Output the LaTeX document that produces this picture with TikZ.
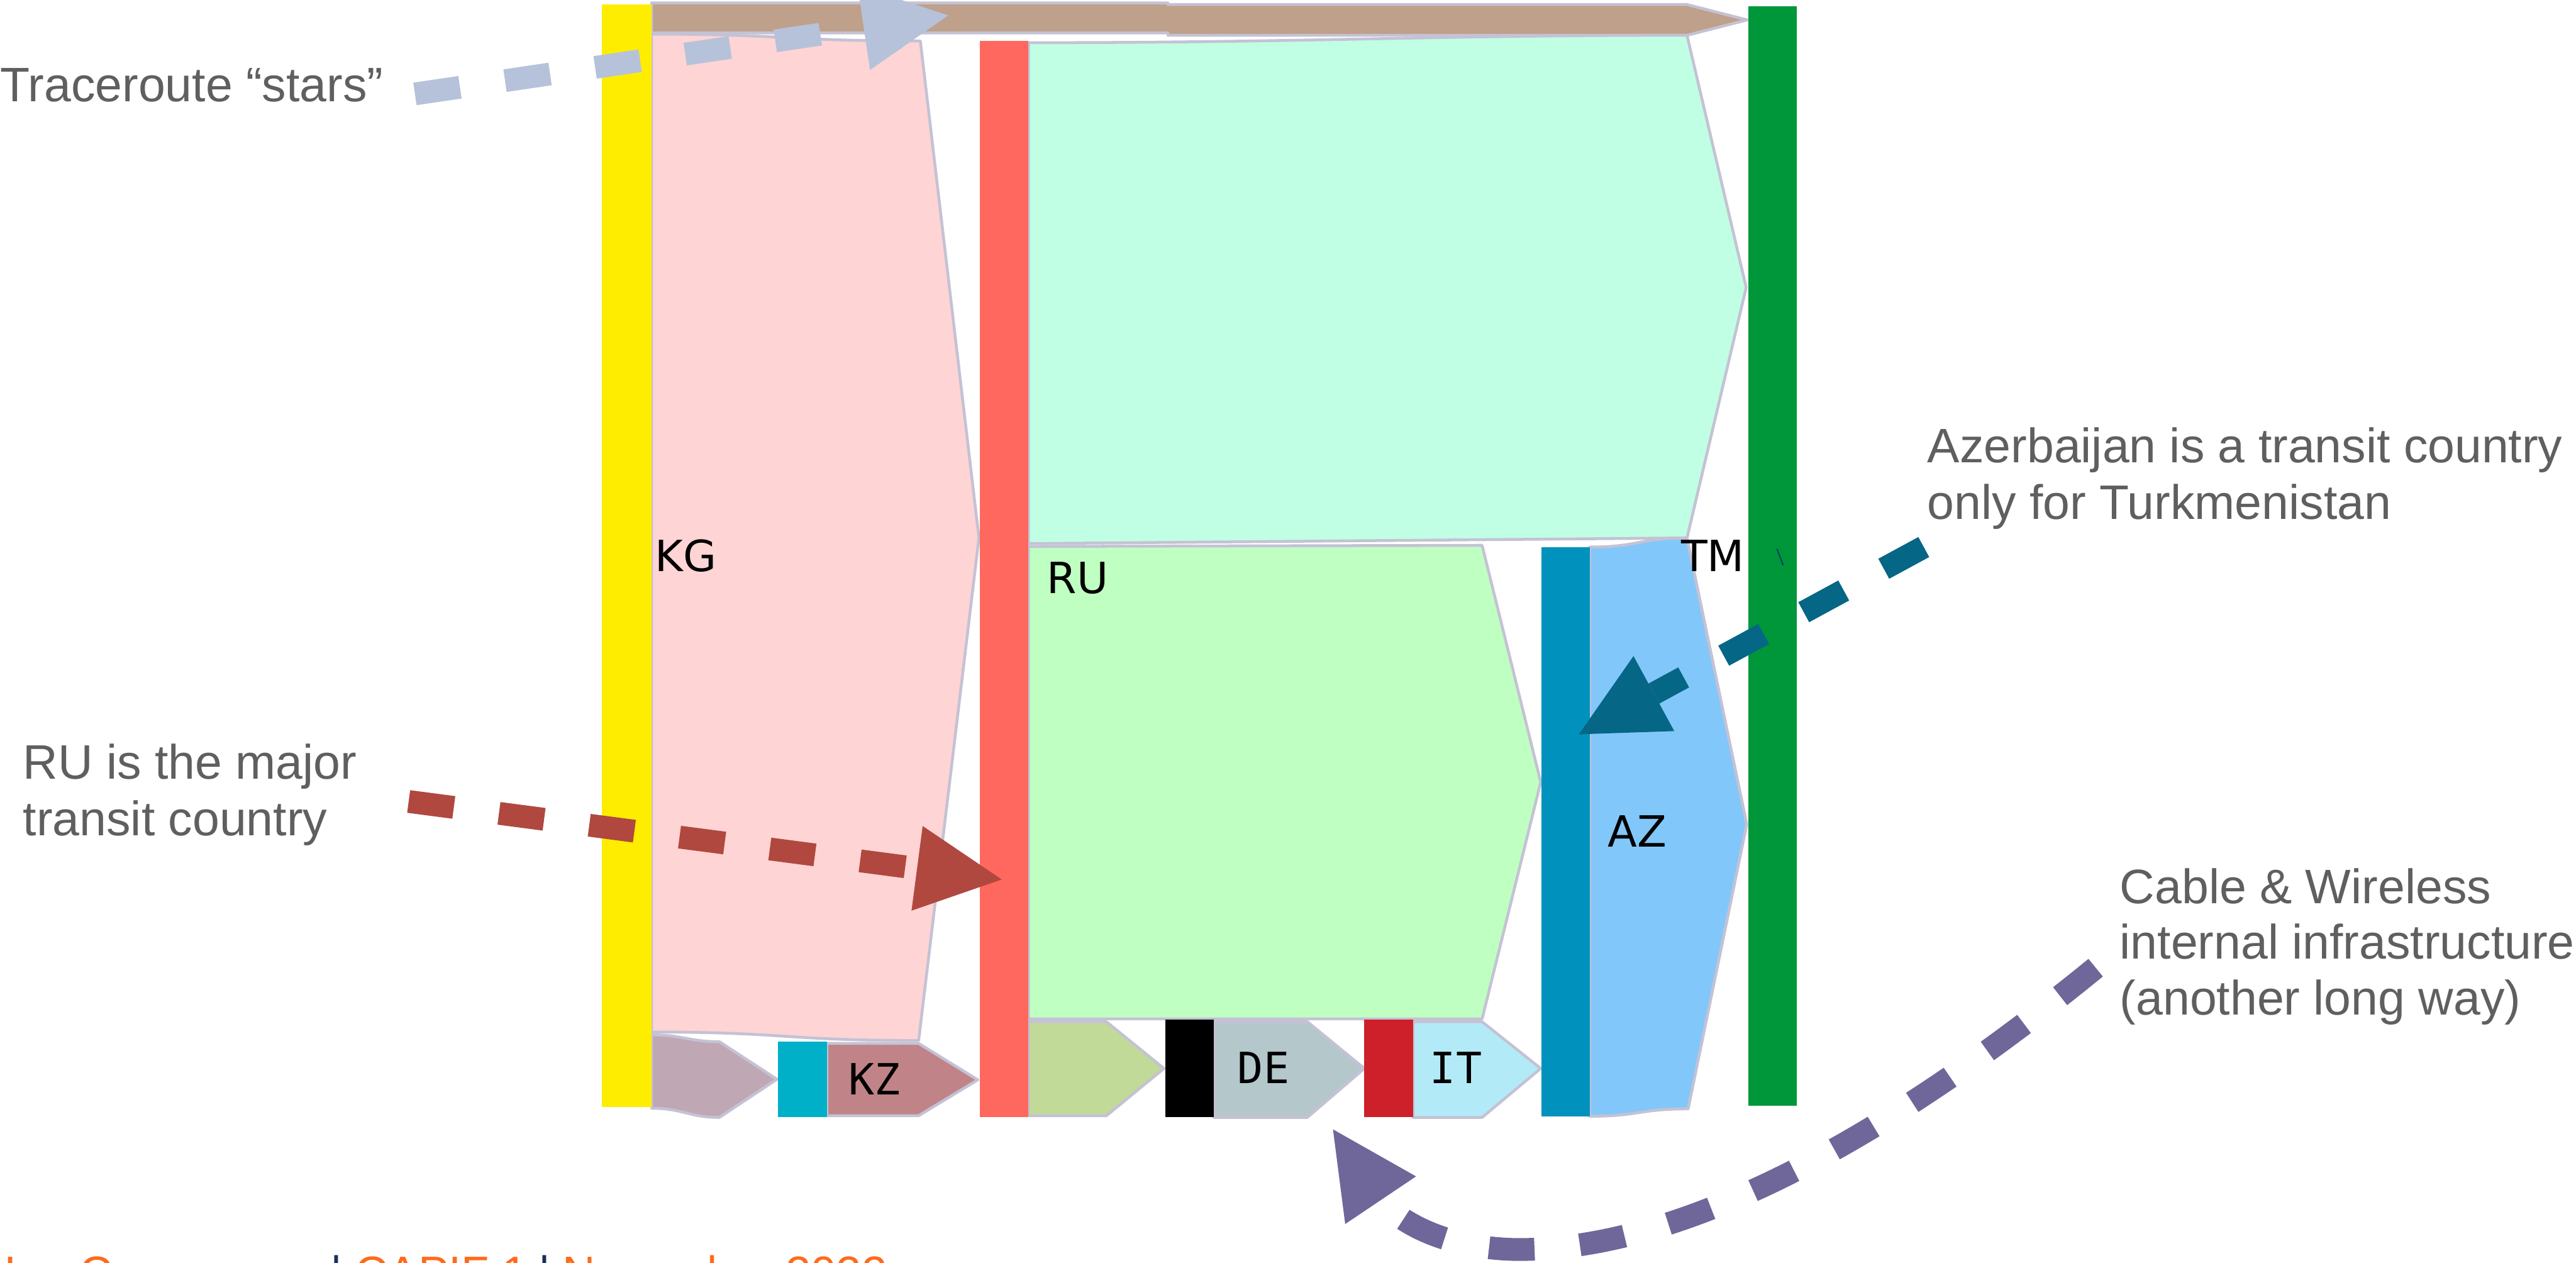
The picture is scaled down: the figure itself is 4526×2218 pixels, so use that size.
\documentclass[tikz,border=0pt]{standalone}
\usepackage{fontspec}
\setmainfont{Liberation Sans}
\newfontfamily\djv{DejaVu Sans}
\newfontfamily\djvm{DejaVu Sans Mono}
\usetikzlibrary{arrows.meta}
\definecolor{kgyellow}{HTML}{FFED00}
\definecolor{kgpink}{HTML}{FFD4D4}
\definecolor{brownband}{HTML}{BFA08A}
\definecolor{rured}{HTML}{FF685E}
\definecolor{mint}{HTML}{C0FFE4}
\definecolor{ltgreen}{HTML}{C0FFC2}
\definecolor{olive}{HTML}{C1DA98}
\definecolor{mauve}{HTML}{BFA7B4}
\definecolor{kzcyan}{HTML}{00AFC8}
\definecolor{kzband}{HTML}{C08488}
\definecolor{deband}{HTML}{B4C7CB}
\definecolor{itred}{HTML}{CD202A}
\definecolor{itband}{HTML}{B2EBF7}
\definecolor{azbar}{HTML}{0092BD}
\definecolor{azband}{HTML}{82C7FA}
\definecolor{tmgreen}{HTML}{00963A}
\definecolor{bandline}{HTML}{C4C2D4}
\definecolor{notegray}{HTML}{5F5F5F}
\definecolor{tealc}{HTML}{066685}
\definecolor{brickc}{HTML}{B0483F}
\definecolor{steelc}{HTML}{B6C2DA}
\definecolor{purplec}{HTML}{6F6799}
\definecolor{footorange}{HTML}{FF6A1C}
\definecolor{footnavy}{HTML}{1B2D5B}
\begin{document}
\begin{tikzpicture}[x=0.1mm,y=-0.1mm,
  band/.style={draw=bandline, line width=0.5mm, line join=round},
  bar/.style={draw=none, inner sep=0, outer sep=0, anchor=north west},
  lbl/.style={inner sep=0, anchor=base west, font=\djv\fontsize{21.5}{25}\selectfont},
  mlbl/.style={inner sep=0, anchor=base, font=\djvm\fontsize{21.5}{25}\selectfont},
  note/.style={inner sep=0, anchor=base west, text=notegray, font=\fontsize{24.2}{29}\selectfont},
  foot/.style={inner sep=0, anchor=base west, font=\fontsize{22.8}{27}\selectfont, text=footorange},
  footsep/.style={foot, text=footnavy},
  callout/.style={line width=4mm, dash pattern=on 8mm off 8mm,
    -{Triangle[length=15mm,width=15mm,line width=0pt]}}]
\useasboundingbox[fill=white] (0,0) rectangle (4526,2218);

% ---- flows ----
\draw[band, fill=kgpink] (1145,60) .. controls (1380,60) and (1380,72) .. (1617,72) -- (1720,945) -- (1614,1828) .. controls (1380,1828) and (1380,1813) .. (1145,1813) -- cycle;
\draw[band, fill=brownband] (1145,5) -- (2052,5) -- (2052,8) -- (2964,8) -- (3070,35) -- (2964,62) -- (2052,62) -- (2052,58) -- (1145,58) -- cycle;
\draw[band, fill=mauve] (1145,1818) .. controls (1200,1818) and (1210,1830) .. (1264,1830) -- (1365,1896) -- (1264,1963) .. controls (1210,1963) and (1200,1947) .. (1145,1947) -- cycle;
\draw[band, fill=kzband] (1453,1833) -- (1614,1833) -- (1718,1897) -- (1614,1960) -- (1453,1960) -- cycle;
\draw[band, fill=mint] (1807,75) .. controls (2300,75) and (2500,62) .. (2964,62) -- (3068,505) -- (2964,945) -- (1807,955) -- cycle;
\draw[band, fill=ltgreen] (1807,960) -- (2604,958) -- (2707,1374) -- (2604,1790) -- (1807,1790) -- cycle;
\draw[band, fill=olive] (1807,1795) -- (1944,1795) -- (2045,1877) -- (1944,1960) -- (1807,1960) -- cycle;
\draw[band, fill=deband] (2133,1795) -- (2297,1795) -- (2397,1877) -- (2297,1963) -- (2133,1963) -- cycle;
\draw[band, fill=itband] (2483,1795) -- (2604,1795) -- (2707,1877) -- (2604,1963) -- (2483,1963) -- cycle;
\draw[band, fill=azband] (2793,961) .. controls (2880,961) and (2880,945) .. (2964,945) -- (3069,1448) -- (2966,1948) .. controls (2880,1948) and (2880,1961) .. (2793,1961) -- cycle;

% ---- country bars ----
\node[bar, fill=kgyellow, minimum width=8.8mm, minimum height=193.7mm] (kgbar) at (1057,8) {};
\node[bar, fill=rured, minimum width=8.5mm, minimum height=189.0mm] (rubar) at (1722,72) {};
\node[bar, fill=kzcyan, minimum width=8.6mm, minimum height=13.2mm] (kzbar) at (1367,1830) {};
\node[bar, fill=black, minimum width=8.6mm, minimum height=17.1mm] (debar) at (2047,1791) {};
\node[bar, fill=itred, minimum width=8.6mm, minimum height=17.1mm] (itbar) at (2397,1791) {};
\node[bar, fill=azbar, minimum width=8.5mm, minimum height=100mm] (azbarn) at (2708,961) {};
\node[bar, fill=tmgreen, minimum width=8.5mm, minimum height=193.2mm] (tmbar) at (3072,11) {};
\draw[line width=0.25mm, tealc!70!black] (3122,964) -- (3133,993);

% ---- country labels ----
\node[lbl] (kgl) at (1150,1004) {KG};
\node[lbl] (rul) at (1839,1043) {RU};
\node[lbl] (tml) at (2953,1004) {TM};
\node[lbl] (azl) at (2824,1488) {AZ};
\node[mlbl] (kzl) at (1537,1923) {KZ};
\node[mlbl] (del) at (2220,1903) {DE};
\node[mlbl] (itl) at (2558,1903) {IT};

% ---- notes ----
\node[note] (trace) at (0,178) {Traceroute “stars”};
\node[note] (ru1) at (40,1368) {RU is the major};
\node[note] (ru2) at (40,1468) {transit country};
\node[note] (az1) at (3386,813) {Azerbaijan is a transit country};
\node[note] (az2) at (3386,912) {only for Turkmenistan};
\node[note] (cw1) at (3724,1587) {Cable \& Wireless};
\node[note] (cw2) at (3724,1685) {internal infrastructure};
\node[note] (cw3) at (3724,1783) {(another long way)};

% ---- callout arrows ----
\coordinate (trS) at (729,165);   \coordinate (trE) at (1666,27);
\coordinate (ruS) at (718,1408);  \coordinate (ruE) at (1760,1545);
\coordinate (azS) at (3380,961);  \coordinate (azE) at (2774,1290);
\coordinate (cwS) at (3682,1700); \coordinate (cwB) at (2660,2195); \coordinate (cwE) at (2342,1984);
\draw[callout, steelc] (trS) -- (trE);
\draw[callout, brickc] (ruS) -- (ruE);
\draw[callout, tealc] (azS) -- (azE);
\draw[callout, purplec] (cwS) .. controls (3400,1930) and (3000,2200) .. (cwB) .. controls (2480,2190) and (2420,2100) .. (cwE);

% ---- footer (cut by the page edge, as in the slide) ----
\begin{scope}
\clip (0,0) rectangle (4526,2218);
\node[foot] (footname) at (6,2264) {Ian Cameron};
\node[footsep] (footsepa) at (580,2264) {|};
\node[foot] (footevent) at (623,2264) {CAPIF 1};
\node[footsep] (footsepb) at (946,2264) {|};
\node[foot] (footdate) at (988,2264) {November 2022};
\end{scope}
\end{tikzpicture}
\end{document}
